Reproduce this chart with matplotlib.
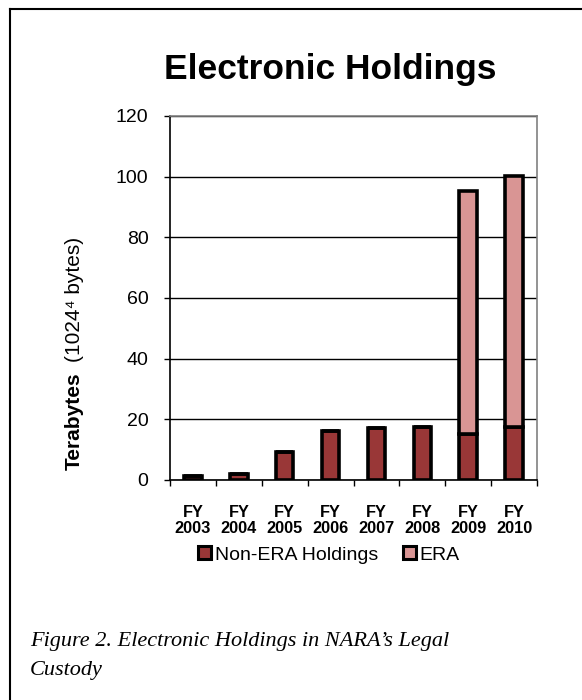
import matplotlib
matplotlib.use('Agg')
import matplotlib.pyplot as plt
from matplotlib.lines import Line2D
from matplotlib.patches import Patch
import numpy as np

years = ['2003', '2004', '2005', '2006', '2007', '2008', '2009', '2010']
non_era = [1.2, 1.9, 9.2, 16.3, 17.0, 17.5, 15.3, 17.6]
era = [0, 0, 0, 0, 0, 0, 80.0, 82.6]
yticks = [0, 20, 40, 60, 80, 100, 120]

dark_red = '#993737'
pink = '#d99594'

plt.rcParams['font.family'] = ['Liberation Sans', 'DejaVu Sans']

fig = plt.figure(figsize=(5.82, 7), dpi=100)
ax = fig.add_axes([170 / 582, 1 - 480 / 700, 367 / 582, 364 / 700])

x = np.arange(len(years))
ax.bar(x, non_era, width=0.38, color=dark_red, edgecolor='black', linewidth=2.6, zorder=3)
ax.bar(x, era, bottom=non_era, width=0.38, color=pink, edgecolor='black', linewidth=2.6, zorder=3)

ax.set_xlim(-0.5, len(years) - 0.5)
ax.set_ylim(0, 120)
ax.set_yticks(yticks)
ax.set_yticklabels([str(v) for v in yticks], fontsize=14)
ax.tick_params(axis='y', direction='out', length=4.5, width=1, pad=11)

ax.set_xticks(x)
ax.set_xticklabels(['FY\n' + y for y in years], fontsize=11.8, fontweight='bold', linespacing=1.05)
ax.set_xticks(np.arange(len(years) + 1) - 0.5, minor=True)
ax.tick_params(axis='x', which='major', length=0, pad=18)
ax.tick_params(axis='x', which='minor', direction='out', length=4.5, width=1)

ax.yaxis.grid(True, color='black', linewidth=1)
ax.set_axisbelow(True)
for s in ['left', 'bottom']:
    ax.spines[s].set_color('black')
    ax.spines[s].set_linewidth(1.2)
for s in ['top', 'right']:
    ax.spines[s].set_color('#808080')
    ax.spines[s].set_linewidth(1.2)

fig.text(330 / 582, 1 - 70 / 700, 'Electronic Holdings', fontsize=25.5, fontweight='bold',
         ha='center', va='center')

# y label: bold part + normal part
fig.text(74 / 582, 1 - 421 / 700, 'Terabytes', fontsize=15, fontweight='bold',
         rotation=90, ha='center', va='center')
fig.text(74 / 582, 1 - 362 / 700, '(1024\u2074 bytes)', fontsize=15,
         rotation=90, ha='center', va='bottom')

handles = [Patch(facecolor=dark_red, edgecolor='black', linewidth=2.2),
           Patch(facecolor=pink, edgecolor='black', linewidth=2.2)]
fig.legend(handles, ['Non-ERA Holdings', 'ERA'], loc='center',
           bbox_to_anchor=(329 / 582, 1 - 555 / 700), ncol=2, frameon=False,
           fontsize=14, handlelength=0.65, handleheight=0.65, handletextpad=0.2,
           columnspacing=1.3)

fig.text(30 / 582, 1 - 656 / 700, 'Figure 2. Electronic Holdings in NARA\u2019s Legal\nCustody',
         fontsize=16, style='italic', family=['Liberation Serif', 'DejaVu Serif'],
         ha='left', va='center', linespacing=1.68)

# outer frame
fig.add_artist(Line2D([10 / 582, 10 / 582], [0, 1 - 9 / 700], transform=fig.transFigure,
                      color='black', linewidth=1.5))
fig.add_artist(Line2D([10 / 582, 1], [1 - 9 / 700, 1 - 9 / 700], transform=fig.transFigure,
                      color='black', linewidth=1.5))

fig.savefig('out.png', dpi=100)
